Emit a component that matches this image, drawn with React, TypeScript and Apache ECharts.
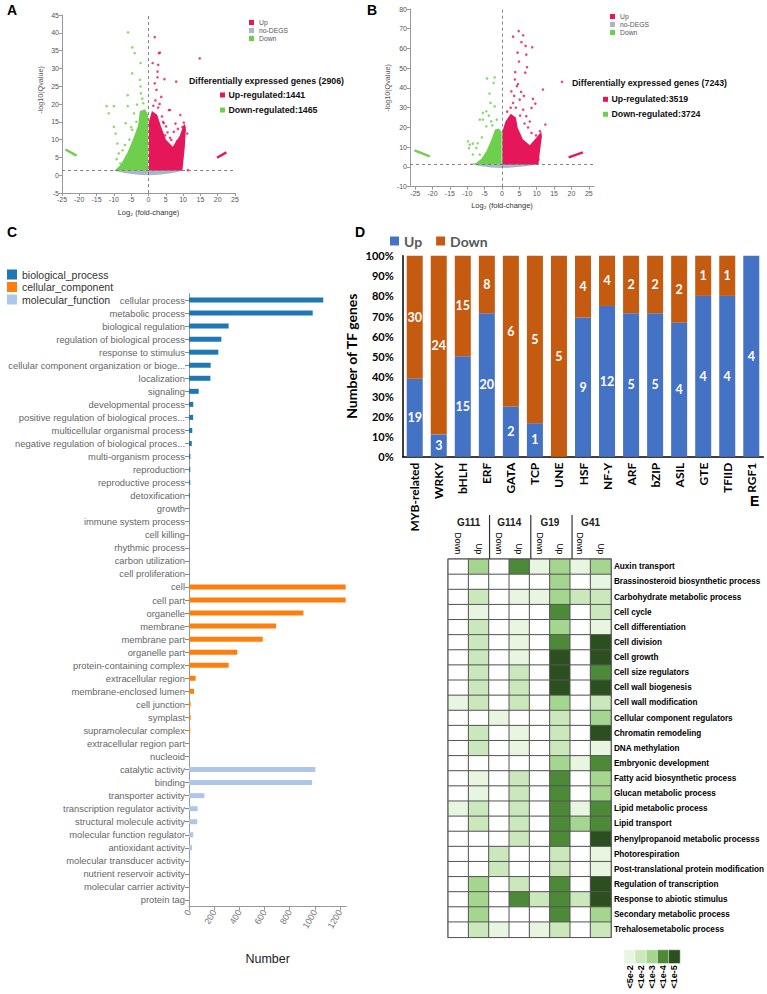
import React, { useEffect, useRef } from 'react';
import * as echarts from 'echarts';

const SANS = '"Liberation Sans", Arial, "DejaVu Sans", sans-serif';
const CAL = 'Lato, "Liberation Sans", sans-serif';

const C_UP = '#e5175a';
const C_DOWN = '#6dcf4c';
const C_NODEG = '#a8b7ca';

// ---------- Panel A (volcano) ----------
const aUp = [[1.8,38.8],[3.0,34.3],[3.3,34.4],[1.2,31.5],[2.8,31],[2.6,29.1],[4.6,27],[8.0,26.3],[14.8,32.8],[3.7,22],[5.9,18.3],[6.2,18.3],[9.2,16.9],[10.2,14.8],[11.2,11.7],[11.4,1.4],[7.3,12.2],[6.6,9.9],[4.4,14.6],[5.1,13.7],[2,21],[2.3,24],[1.8,25.8],[2.6,27.5],[3.2,20],[2.8,19],[4.2,15],[8.5,13],[9.8,13.5],[10.5,12.5],[7.8,14.5],[3.9,16.5],[5.5,12],[6.2,10.5],[8.2,9.5],[1.4,19.5],[4.8,11.2]];
const aDown = [[-5.9,40.1],[-4.7,35.9],[-4.0,34.3],[-2.3,31.5],[-4.7,28.6],[-2.5,26.8],[-2.3,24.9],[-2.2,23],[-6,22.5],[-12.1,19.4],[-10,19.4],[-11.5,17.4],[-6,19.4],[-1.5,20.2],[-4.2,17.4],[-6.6,14.6],[-10,13.6],[-9.5,11.7],[-9,8.9],[-8.6,6.1],[-8.1,3.3],[-4.7,12.7],[-3.5,15],[-5.5,10],[-7.5,7],[-3.3,19.8],[-1.8,21.5],[-5,13.5],[-6.8,8.5],[-9.2,4.5]];
const aUpLine = [[19.8,4.9],[22.5,6.4]];
const aDownLine = [[-24,7.2],[-20.8,5.5]];
const aUpCloud = [[0.1,1.3],[0.1,15],[1,18],[2.5,17],[3.5,14],[5,10],[7,8],[9,11],[10.3,14.5],[10.8,13.5],[10.5,8],[9.8,1.3]];
const aDownCloud = [[-0.1,1.3],[-0.1,17],[-1,18.5],[-2.5,18],[-3,14],[-4.5,10],[-6,6.5],[-8,3],[-9.8,1.3]];
const aNoDegCloud = [[-10.5,1.4],[-7,0.6],[-3,0.15],[0,0],[3,0.15],[7,0.6],[10.5,1.4],[7,1.6],[0,1.6],[-7,1.6]];
const aCounts = { total: 2906, up: 1441, down: 1465 };

// ---------- Panel B (volcano) ----------
const bUp = [[9.1,80.2],[4.8,68.8],[6.1,66.7],[3.2,66],[5.6,63.2],[6.8,61.3],[8.7,60.6],[4.5,57.9],[7,56.9],[4.9,53.4],[7.2,50.5],[6.7,47.8],[3.8,48],[3.7,44.3],[4.3,40.9],[17.3,43.1],[11.8,39.2],[8.9,34.5],[8.5,29.9],[9.6,32.1],[12.5,21.5],[5.1,34.1],[6.1,29],[7,25.7],[2.7,38.3],[3.2,32.4],[8.5,17.2],[10.9,18.1],[10.5,3.7],[5.5,38],[4,30],[2.5,30],[6.5,22],[5.2,26],[3.5,36],[7.5,20],[9.8,16],[1.5,28],[4.6,42],[6.3,36],[8,23]];
const bDown = [[-4.3,44.8],[-2.1,45.4],[-2.4,42.6],[-3.6,37.2],[-2.1,30.7],[-3.3,32.4],[-5.5,27.4],[-4.5,28.2],[-6.4,24],[-9.8,13],[-9.3,11.3],[-8.4,11.8],[-5.5,24],[-7.4,9.6],[-6.4,6.3],[-8.4,6.3],[-4.5,20.6],[-3.1,23.1],[-9.5,9.5],[-7,12],[-5.8,15],[-3.8,26],[-1.5,24],[-2.8,21]];
const bUpLine = [[19.2,4.9],[23.3,7.4]];
const bDownLine = [[-25.2,8.4],[-20.8,5.4]];
const bUpCloud = [[0.1,1.3],[0.1,18],[1,23],[2.5,27],[4,25],[4.5,20],[6,14],[8,11],[10,15],[11.3,18],[11.5,15.5],[10.8,6],[10.5,1.3]];
const bDownCloud = [[-0.1,1.3],[-0.1,18],[-1,19.5],[-2,19],[-3,14],[-4.5,8],[-6,4],[-8,1.3]];
const bNoDegCloud = [[-9.5,1.6],[-6,0.4],[-3,-0.3],[0,-0.5],[3,-0.3],[7,0.4],[11,1.6],[7,2.0],[0,2.0],[-7,2.0]];
const bCounts = { total: 7243, up: 3519, down: 3724 };

const volcanoTicks = [-25, -20, -15, -10, -5, 0, 5, 10, 15, 20, 25];
const qThreshold = 1.3;

// ---------- Panel C (GO bars) ----------
const goBP = ['cellular process','metabolic process','biological regulation','regulation of biological process','response to stimulus','cellular component organization or bioge...','localization','signaling','developmental process','positive regulation of biological proces...','multicellular organismal process','negative regulation of biological proces...','multi-organism process','reproduction','reproductive process','detoxification','growth','immune system process','cell killing','rhythmic process','carbon utilization','cell proliferation'];
const goBPv = [1067, 983, 315, 257, 233, 172, 170, 77, 34, 33, 26, 22, 11, 10, 10, 8, 1, 1, 0, 1, 1, 1];
const goCC = ['cell','cell part','organelle','membrane','membrane part','organelle part','protein-containing complex','extracellular region','membrane-enclosed lumen','cell junction','symplast','supramolecular complex','extracellular region part','nucleoid'];
const goCCv = [1245, 1245, 909, 692, 586, 384, 315, 53, 40, 13, 13, 10, 3, 1];
const goMF = ['catalytic activity','binding','transporter activity','transcription regulator activity','structural molecule activity','molecular function regulator','antioxidant activity','molecular transducer activity','nutrient reservoir activity','molecular carrier activity','protein tag'];
const goMFv = [1004, 978, 122, 69, 66, 34, 24, 5, 1, 1, 1];
const goGroups = ['biological_process', 'cellular_component', 'molecular_function'];
const goColors = ['#1f77b4', '#ff7f0e', '#aec7e8'];

// ---------- Panel D (TF stacked %) ----------
const tfNames = ['MYB-related','WRKY','bHLH','ERF','GATA','TCP','UNE','HSF','NF-Y','ARF','bZIP','ASIL','GTE','TFIID','RGF1'];
const tfUp = [19, 3, 15, 20, 2, 1, 0, 9, 12, 5, 5, 4, 4, 4, 4];
const tfDown = [30, 24, 15, 8, 6, 5, 5, 4, 4, 2, 2, 2, 1, 1, 0];

// ---------- Panel E (heatmap) ----------
const eRows = ['Auxin transport','Brassinosteroid biosynthetic process','Carbohydrate metabolic process','Cell cycle','Cell differentiation','Cell division','Cell growth','Cell size regulators','Cell wall biogenesis','Cell wall modification','Cellular component regulators','Chromatin remodeling','DNA methylation','Embryonic development','Fatty acid biosynthetic process','Glucan metabolic process','Lipid metabolic process','Lipid transport','Phenylpropanoid metabolic processs','Photorespiration','Post-translational protein modification','Regulation of transcription','Response to abiotic stimulus','Secondary metabolic process','Trehalosemetabolic process'];
const eGroups = ['G111', 'G114', 'G19', 'G41'];
const eCols = ['Down', 'Up', 'Down', 'Up', 'Down', 'Up', 'Down', 'Up'];
const eLevels = [
  [0,3,0,4,1,3,1,3],
  [0,0,0,0,0,3,0,1],
  [0,2,0,1,1,3,2,2],
  [0,1,0,0,0,4,0,2],
  [0,2,0,1,0,3,0,1],
  [0,2,0,1,0,4,0,5],
  [0,2,0,1,0,5,0,5],
  [0,2,0,2,0,5,0,4],
  [0,2,0,2,0,5,0,5],
  [1,2,0,2,0,3,0,2],
  [0,0,1,0,0,2,0,3],
  [0,2,0,1,0,2,0,5],
  [0,2,0,1,0,2,0,1],
  [0,0,0,0,0,3,1,4],
  [0,1,0,2,0,4,0,3],
  [0,1,0,2,0,4,0,3],
  [1,2,0,2,0,4,1,4],
  [0,2,0,2,0,4,3,4],
  [0,0,0,2,0,4,0,5],
  [0,0,2,0,0,2,0,1],
  [0,0,2,0,0,2,0,1],
  [0,3,0,2,0,4,0,5],
  [0,3,0,4,2,4,2,5],
  [0,3,0,0,0,4,0,3],
  [0,2,1,0,1,2,0,2],
];
const eLegendLabels = ['<5e-2', '<1e-2', '<1e-3', '<1e-4', '<1e-5'];
const eLegendLevels = [1, 2, 3, 4, 5];
const eColors = ['#ffffff', '#e8f5e0', '#cbe8bd', '#a5d690', '#4d8a37', '#2b4f1f'];

// ---------- layout ----------
const GA = { left: 62, top: 15, width: 173, height: 178 };
const GB = { left: 410, top: 9, width: 184, height: 177.7 };
const GC = { left: 189, top: 293.5, width: 157.3, height: 613 };
const GD = { left: 402.7, top: 255.7, width: 360.6, height: 201 };
const GE = { left: 448.3, top: 559.3, width: 165, height: 378 };
const GEL = { left: 624, top: 950, width: 56, height: 13.3 };

function cloud(name: string, poly: number[][], color: string, gi: number, z: number) {
  return {
    type: 'custom', name, xAxisIndex: gi, yAxisIndex: gi, z, silent: true,
    data: poly, encode: { x: 0, y: 1 }, itemStyle: { color },
    renderItem: (params: any, api: any) => {
      if (params.dataIndex !== 0) return null;
      return { type: 'polygon', shape: { points: poly.map((p) => api.coord(p)) }, style: { fill: color } };
    },
  };
}
function dots(name: string, pts: number[][], color: string, gi: number, extra: any = {}) {
  return { type: 'scatter', name, xAxisIndex: gi, yAxisIndex: gi, z: 4, silent: true, data: pts, symbolSize: 2.6, itemStyle: { color }, ...extra };
}
function streak(name: string, pts: number[][], color: string, gi: number) {
  return { type: 'line', name, xAxisIndex: gi, yAxisIndex: gi, z: 4, silent: true, data: pts, symbol: 'none', lineStyle: { color, width: 2.4 } };
}
function volcanoSeries(gi: number, d: any) {
  return [
    cloud('no-DEGS', d.noDeg, C_NODEG, gi, 2),
    cloud('Down', d.downCloud, C_DOWN, gi, 3),
    cloud('Up', d.upCloud, C_UP, gi, 3),
    dots('Down', d.down, C_DOWN, gi),
    dots('Up', d.up, C_UP, gi, {
      markLine: {
        silent: true, symbol: ['none', 'none'], label: { show: false }, z: 6,
        lineStyle: { type: [3, 3], color: '#777', width: 0.9 },
        data: [{ xAxis: 0 }, { yAxis: qThreshold }],
      },
    }),
    streak('Down', d.downLine, C_DOWN, gi),
    streak('Up', d.upLine, C_UP, gi),
  ];
}

const volcAxisLabel = { fontSize: 7, color: '#555', margin: 3, fontFamily: SANS };
const volcLine = { show: true, onZero: false, lineStyle: { color: '#999', width: 1 } };
const volcTick = { show: true, length: 3, lineStyle: { color: '#999' } };

export default function App() {
  const ref = useRef<HTMLDivElement>(null);
  useEffect(() => {
    const chart = echarts.init(ref.current!, null, { renderer: 'svg' });

    const goNames = [...goBP, ...goCC, ...goMF];
    const goVals = [goBPv, goCCv, goMFv];
    const goLens = [goBP.length, goCC.length, goMF.length];
    const goSeries = goGroups.map((g, gi) => {
      const start = goLens.slice(0, gi).reduce((a, b) => a + b, 0);
      const data = goNames.map((_, i) => (i >= start && i < start + goLens[gi] ? goVals[gi][i - start] : '-'));
      return { type: 'bar', name: g, xAxisIndex: 2, yAxisIndex: 2, stack: 'go', barWidth: 5, data, itemStyle: { color: goColors[gi] }, silent: true };
    });

    const tfLabel = (counts: number[]) => ({
      show: true, position: 'inside', color: '#fff', fontFamily: CAL, fontWeight: 'bold', fontSize: 12.5,
      formatter: (p: any) => (counts[p.dataIndex] > 0 ? String(counts[p.dataIndex]) : ''),
    });
    const tfSeries = [
      { type: 'bar', name: 'Up', xAxisIndex: 3, yAxisIndex: 3, stack: 'tf', barWidth: 16, silent: true,
        data: tfUp.map((u, i) => (u / (u + tfDown[i])) * 100), itemStyle: { color: '#4472c4' }, label: tfLabel(tfUp) },
      { type: 'bar', name: 'Down', xAxisIndex: 3, yAxisIndex: 3, stack: 'tf', barWidth: 16, silent: true,
        data: tfDown.map((dn, i) => (dn / (tfUp[i] + dn)) * 100), itemStyle: { color: '#c55a11' }, label: tfLabel(tfDown) },
    ];

    const heatData: number[][] = [];
    eLevels.forEach((row, r) => row.forEach((v, c) => heatData.push([c, r, v])));

    const series: any[] = [
      ...volcanoSeries(0, { noDeg: aNoDegCloud, downCloud: aDownCloud, upCloud: aUpCloud, down: aDown, up: aUp, downLine: aDownLine, upLine: aUpLine }),
      ...volcanoSeries(1, { noDeg: bNoDegCloud, downCloud: bDownCloud, upCloud: bUpCloud, down: bDown, up: bUp, downLine: bDownLine, upLine: bUpLine }),
      ...goSeries,
      ...tfSeries,
    ];
    const heatIdx = series.length;
    series.push({ type: 'heatmap', xAxisIndex: 4, yAxisIndex: 4, data: heatData, silent: true, itemStyle: { borderColor: '#555', borderWidth: 1 } });
    const legIdx = series.length;
    series.push({ type: 'heatmap', xAxisIndex: 6, yAxisIndex: 5, data: eLegendLevels.map((v, i) => [i, 0, v]), silent: true, itemStyle: { borderColor: '#fff', borderWidth: 0.5 } });

    const letter = (t: string, x: number, y: number) => ({ type: 'text', x, y, style: { text: t, fontSize: 14, fontWeight: 'bold', fontFamily: SANS, fill: '#000' } });
    const annot = (x0: number, sq: number, ys: number[], c: any) => [
      { type: 'text', x: x0, y: ys[0], style: { text: `Differentially expressed genes (${c.total})`, fontSize: 8.8, fontWeight: 'bold', fontFamily: SANS, fill: '#111', verticalAlign: 'middle' } },
      { type: 'rect', x: sq, y: ys[1] - 2.5, shape: { width: 5, height: 5 }, style: { fill: C_UP } },
      { type: 'text', x: sq + 8.5, y: ys[1], style: { text: `Up-regulated:${c.up}`, fontSize: 8.8, fontWeight: 'bold', fontFamily: SANS, fill: '#111', verticalAlign: 'middle' } },
      { type: 'rect', x: sq, y: ys[2] - 2.5, shape: { width: 5, height: 5 }, style: { fill: C_DOWN } },
      { type: 'text', x: sq + 8.5, y: ys[2], style: { text: `Down-regulated:${c.down}`, fontSize: 8.8, fontWeight: 'bold', fontFamily: SANS, fill: '#111', verticalAlign: 'middle' } },
    ];
    const yName = (x: number, y: number) => ({ type: 'text', x, y, rotation: Math.PI / 2, style: { text: '-log10(Qvalue)', fontSize: 7.2, fontFamily: SANS, fill: '#555', align: 'center', verticalAlign: 'middle' } });
    const colW = GE.width / eCols.length;
    const seps = [1, 2, 3].map((k) => ({ type: 'line', shape: { x1: GE.left + colW * 2 * k, y1: 515, x2: GE.left + colW * 2 * k, y2: GE.top }, style: { stroke: '#333', lineWidth: 1.2 } }));

    const volcLegend = (left: number, top: number) => ({
      left, top, orient: 'vertical', itemWidth: 5, itemHeight: 5, itemGap: 1, icon: 'rect', selectedMode: false,
      textStyle: { fontSize: 6.8, color: '#555', fontFamily: SANS },
      data: [
        { name: 'Up', itemStyle: { color: C_UP } },
        { name: 'no-DEGS', itemStyle: { color: C_NODEG } },
        { name: 'Down', itemStyle: { color: C_DOWN } },
      ],
    });

    const option: any = {
      animation: false,
      textStyle: { fontFamily: SANS },
      grid: [
        { ...GA, containLabel: false },
        { ...GB, containLabel: false },
        { ...GC, containLabel: false },
        { ...GD, containLabel: false },
        { ...GE, containLabel: false, show: true, borderColor: '#333', borderWidth: 1.5 },
        { ...GEL, containLabel: false },
      ],
      xAxis: [
        { gridIndex: 0, type: 'value', min: -25, max: 25, interval: 5, axisLine: volcLine, axisTick: volcTick, axisLabel: volcAxisLabel, splitLine: { show: false },
          name: 'Log₂ (fold-change)', nameLocation: 'middle', nameGap: 15, nameTextStyle: { fontSize: 7.5, color: '#333', fontFamily: SANS } },
        { gridIndex: 1, type: 'value', min: -26.5, max: 26.5, axisLine: volcLine,
          axisTick: { ...volcTick, customValues: volcanoTicks }, axisLabel: { ...volcAxisLabel, customValues: volcanoTicks }, splitLine: { show: false },
          name: 'Log₂ (fold-change)', nameLocation: 'middle', nameGap: 15, nameTextStyle: { fontSize: 7.5, color: '#333', fontFamily: SANS } },
        { gridIndex: 2, type: 'value', min: 0, max: 1250, interval: 200,
          axisLine: { show: true, lineStyle: { color: '#999' } }, axisTick: { show: true, length: 4, lineStyle: { color: '#999' } },
          axisLabel: { rotate: 60, fontSize: 9, color: '#777', margin: 4, showMaxLabel: false, fontFamily: SANS, formatter: (v: number) => String(v) }, splitLine: { show: false },
          name: 'Number', nameLocation: 'middle', nameGap: 46, nameTextStyle: { fontSize: 12.5, color: '#222', fontFamily: SANS } },
        { gridIndex: 3, type: 'category', data: tfNames, axisLine: { lineStyle: { color: '#000', width: 1.5 } }, axisTick: { show: false },
          axisLabel: { rotate: 90, interval: 0, fontFamily: CAL, fontWeight: 'bold', fontSize: 12, color: '#000', margin: 6 } },
        { gridIndex: 4, type: 'category', position: 'top', data: eCols, axisLine: { show: false }, axisTick: { show: false },
          axisLabel: { rotate: 90, interval: 0, fontSize: 8.5, color: '#000', margin: 5, fontFamily: SANS }, splitLine: { show: false } },
        { gridIndex: 4, type: 'category', position: 'top', offset: 30, data: eGroups, axisLine: { show: false }, axisTick: { show: false },
          axisLabel: { interval: 0, fontSize: 10, fontWeight: 'bold', color: '#222', margin: 2, fontFamily: SANS } },
        { gridIndex: 5, type: 'category', data: eLegendLabels, axisLine: { show: false }, axisTick: { show: false },
          axisLabel: { rotate: 90, interval: 0, fontSize: 9, fontWeight: 'bold', color: '#000', margin: 2, fontFamily: SANS } },
      ],
      yAxis: [
        { gridIndex: 0, type: 'value', min: -5, max: 45, interval: 5, axisLine: volcLine, axisTick: volcTick, axisLabel: volcAxisLabel, splitLine: { show: false } },
        { gridIndex: 1, type: 'value', min: -10, max: 80, interval: 10, axisLine: volcLine, axisTick: volcTick, axisLabel: volcAxisLabel, splitLine: { show: false } },
        { gridIndex: 2, type: 'category', inverse: true, data: goNames,
          axisLine: { show: true, lineStyle: { color: '#999' } }, axisTick: { show: true, alignWithLabel: true, interval: 0, length: 4, lineStyle: { color: '#888' } },
          axisLabel: { interval: 0, fontSize: 9.4, color: '#666', margin: 4, fontFamily: SANS } },
        { gridIndex: 3, type: 'value', min: 0, max: 100, interval: 10, axisLine: { show: true, lineStyle: { color: '#000', width: 1.5 } }, axisTick: { show: false },
          splitLine: { show: false }, axisLabel: { formatter: '{value}%', fontFamily: CAL, fontWeight: 'bold', fontSize: 11, color: '#000', margin: 9 },
          name: 'Number of TF genes', nameLocation: 'middle', nameGap: 44, nameTextStyle: { fontFamily: CAL, fontWeight: 'bold', fontSize: 14, color: '#000' } },
        { gridIndex: 4, type: 'category', inverse: true, position: 'right', data: eRows, axisLine: { show: false }, axisTick: { show: false },
          axisLabel: { interval: 0, fontSize: 8.2, fontWeight: 'bold', color: '#000', margin: 3, fontFamily: SANS } },
        { gridIndex: 5, type: 'category', data: [''], show: false },
      ],
      legend: [
        volcLegend(244, 14),
        volcLegend(605, 8),
        { left: 2, top: 264, orient: 'vertical', itemWidth: 10, itemHeight: 10, itemGap: 1.5, icon: 'rect', selectedMode: false,
          textStyle: { fontSize: 10.5, color: '#333', fontFamily: SANS },
          data: goGroups.map((g, i) => ({ name: g, itemStyle: { color: goColors[i] } })) },
        { left: 385, top: 229, orient: 'horizontal', itemWidth: 9, itemHeight: 9, itemGap: 14, icon: 'rect', selectedMode: false,
          textStyle: { fontSize: 14, fontWeight: 'bold', color: '#595959', fontFamily: CAL },
          data: [{ name: 'Up', itemStyle: { color: '#4472c4' } }, { name: 'Down', itemStyle: { color: '#c55a11' } }] },
      ],
      visualMap: [{
        type: 'piecewise', show: false, seriesIndex: [heatIdx, legIdx], dimension: 2,
        pieces: eColors.map((c, i) => ({ value: i, color: c })),
      }],
      series,
      graphic: {
        elements: [
          letter('A', 7, 3), letter('B', 367, 3), letter('C', 7, 225), letter('D', 355, 225), letter('E', 750, 494),
          ...annot(189, 220, [81, 95, 110], aCounts),
          ...annot(572, 603, [82.7, 99.3, 114.3], bCounts),
          yName(40, 90), yName(387, 88),
          ...seps,
        ],
      },
    };
    chart.setOption(option);
    return () => chart.dispose();
  }, []);
  return <div ref={ref} style={{ position: 'absolute', left: 0, top: 0, width: 767, height: 994 }} />;
}
